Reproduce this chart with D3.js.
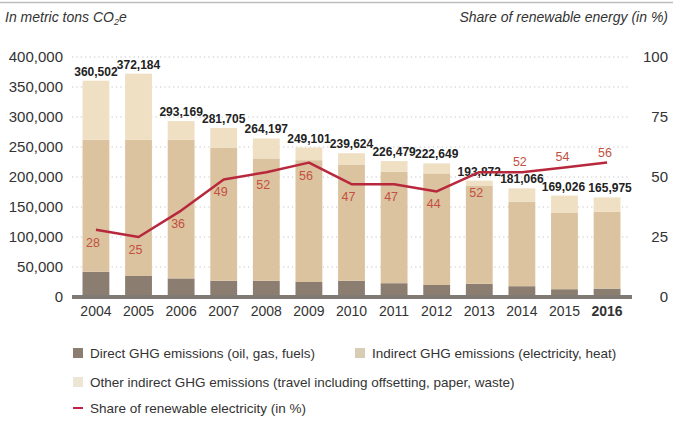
<!DOCTYPE html>
<html><head><meta charset="utf-8">
<script src="https://cdn.jsdelivr.net/npm/d3@7/dist/d3.min.js"></script>
<style>
html,body{margin:0;padding:0;background:#fff;}
svg{display:block;font-family:"Liberation Sans",Arial,sans-serif;}
</style></head>
<body><svg id="c" width="673" height="428"></svg>
<script>
const years = ["2004","2005","2006","2007","2008","2009","2010","2011","2012","2013","2014","2015","2016"];
const direct   = [42000, 35000, 31000, 27000, 27000, 25000, 27000, 23000, 20000, 22000, 18000, 13000, 14000];
const indirect = [220000, 227000, 231000, 222000, 204000, 203000, 193000, 186000, 186000, 163000, 141000, 127000, 128000];
const other    = [98502, 110184, 31169, 32705, 33197, 21101, 19624, 17479, 16649, 8872, 22066, 29026, 23975];
const totals   = [360502, 372184, 293169, 281705, 264197, 249101, 239624, 226479, 222649, 193872, 181066, 169026, 165975];
const renewable = [28, 25, 36, 49, 52, 56, 47, 47, 44, 52, 52, 54, 56];
const leftTicks = [0, 50000, 100000, 150000, 200000, 250000, 300000, 350000, 400000];
const rightTicks = [0, 25, 50, 75, 100];
const seriesNames = ["Direct GHG emissions (oil, gas, fuels)", "Indirect GHG emissions (electricity, heat)", "Other indirect GHG emissions (travel including offsetting, paper, waste)"];
const lineName = "Share of renewable electricity (in %)";
const colors = ["#8b7d70", "#dbc39f", "#efdfc3"];
const legendColors = ["#8b7d70", "#d9ccb5", "#ede6d5"];
const lineColor = "#b8283c";
const labelColor = "#c4503f";

const svg = d3.select("#c");
const x = d3.scaleBand().domain(years).range([74, 629]).paddingInner(0.37).paddingOuter(0.2);
const y = d3.scaleLinear().domain([0, 400000]).range([297, 57]);
const y2 = d3.scaleLinear().domain([0, 100]).range([297, 57]);

// top faint rule
svg.append("line").attr("x1",0).attr("x2",673).attr("y1",2.5).attr("y2",2.5).attr("stroke","#bdbdbd").attr("stroke-width",1.5);

// headers
const h1 = svg.append("text").attr("x",5).attr("y",22).attr("font-size",14).attr("font-style","italic").attr("fill","#333");
h1.append("tspan").text("In metric tons CO");
h1.append("tspan").attr("font-size",9).attr("dy",3).text("2");
h1.append("tspan").attr("dy",-3).text("e");
svg.append("text").attr("x",668).attr("y",22).attr("text-anchor","end").attr("font-size",14).attr("font-style","italic").attr("fill","#333").text("Share of renewable energy (in %)");

// grid
svg.append("g").selectAll("line").data(leftTicks.filter(d=>d>0)).join("line")
  .attr("x1",72).attr("x2",630).attr("y1",d=>y(d)).attr("y2",d=>y(d))
  .attr("stroke","#c4c4c4").attr("stroke-width",1).attr("stroke-dasharray","1.2,3.2");

// left axis
const ax = svg.append("g").attr("transform","translate(63,0)").call(d3.axisLeft(y).tickValues(leftTicks).tickSize(0).tickPadding(0).tickFormat(d3.format(",")));
ax.select(".domain").remove();
ax.selectAll("text").attr("font-size",15).attr("fill","#333").attr("font-family","Liberation Sans, Arial, sans-serif");

// right axis
const ax2 = svg.append("g").attr("transform","translate(668,0)").call(d3.axisRight(y2).tickValues(rightTicks).tickSize(0).tickPadding(0));
ax2.select(".domain").remove();
ax2.selectAll("text").attr("font-size",15).attr("fill","#333").attr("text-anchor","end").attr("font-family","Liberation Sans, Arial, sans-serif");

// stacked bars
const rows = years.map((yr,i)=>({year:yr, d0:direct[i], d1:indirect[i], d2:other[i]}));
const stack = d3.stack().keys(["d0","d1","d2"])(rows);
svg.append("g").selectAll("g").data(stack).join("g").attr("fill",(d,i)=>colors[i])
  .selectAll("rect").data(d=>d).join("rect")
  .attr("x",d=>x(d.data.year)).attr("width",x.bandwidth())
  .attr("y",d=>y(d[1])).attr("height",d=>y(d[0])-y(d[1]));

// baseline
svg.append("line").attr("x1",72).attr("x2",632).attr("y1",y(0)).attr("y2",y(0)).attr("stroke","#7f7a74").attr("stroke-width",4);

// total labels
svg.append("g").selectAll("text").data(totals).join("text")
  .attr("x",(d,i)=>x(years[i])+x.bandwidth()/2 + (i===12?3:(i===11?-1:0))).attr("y",(d,i)=>y(d)-5)
  .attr("text-anchor","middle").attr("font-size",12).attr("font-weight","bold").attr("fill","#222")
  .text(d=>d3.format(",")(d));

// x axis labels
const xa = svg.append("g").attr("transform","translate(0,"+(y(0)+4)+")").call(d3.axisBottom(x).tickSize(0).tickPadding(0));
xa.select(".domain").remove();
xa.selectAll("text").attr("font-size",14).attr("fill","#333").attr("dy","1.05em").attr("font-family","Liberation Sans, Arial, sans-serif")
  .attr("font-weight",d=>d==="2016"?"bold":"normal");

// line
const line = d3.line().x((d,i)=>x(years[i])+x.bandwidth()/2).y(d=>y2(d));
svg.append("path").datum(renewable).attr("d",line).attr("fill","none").attr("stroke",lineColor).attr("stroke-width",2.5).attr("stroke-linejoin","round");

// line labels
svg.append("g").selectAll("text").data(renewable).join("text")
  .attr("x",(d,i)=>x(years[i])+x.bandwidth()/2 + (i<10? -3 : -2))
  .attr("y",(d,i)=> i>=10 ? y2(d)-6 : (i===9 ? y2(d)+25 : y2(d)+17))
  .attr("text-anchor","middle").attr("font-size",12.5).attr("fill",labelColor)
  .text(d=>d);

// legend
const lg = svg.append("g").attr("font-size",13.5).attr("fill","#333");
const items = [
  {t:seriesNames[0], c:legendColors[0], x:73, y:353},
  {t:seriesNames[1], c:legendColors[1], x:355, y:353},
  {t:seriesNames[2], c:legendColors[2], x:73, y:382}
];
items.forEach(it=>{
  lg.append("rect").attr("x",it.x).attr("y",it.y-5).attr("width",10).attr("height",10).attr("fill",it.c);
  lg.append("text").attr("x",it.x+17).attr("y",it.y+5).text(it.t);
});
lg.append("line").attr("x1",73).attr("x2",83).attr("y1",408).attr("y2",408).attr("stroke","#c2224a").attr("stroke-width",2);
lg.append("text").attr("x",90).attr("y",413).text(lineName);
</script></body></html>
